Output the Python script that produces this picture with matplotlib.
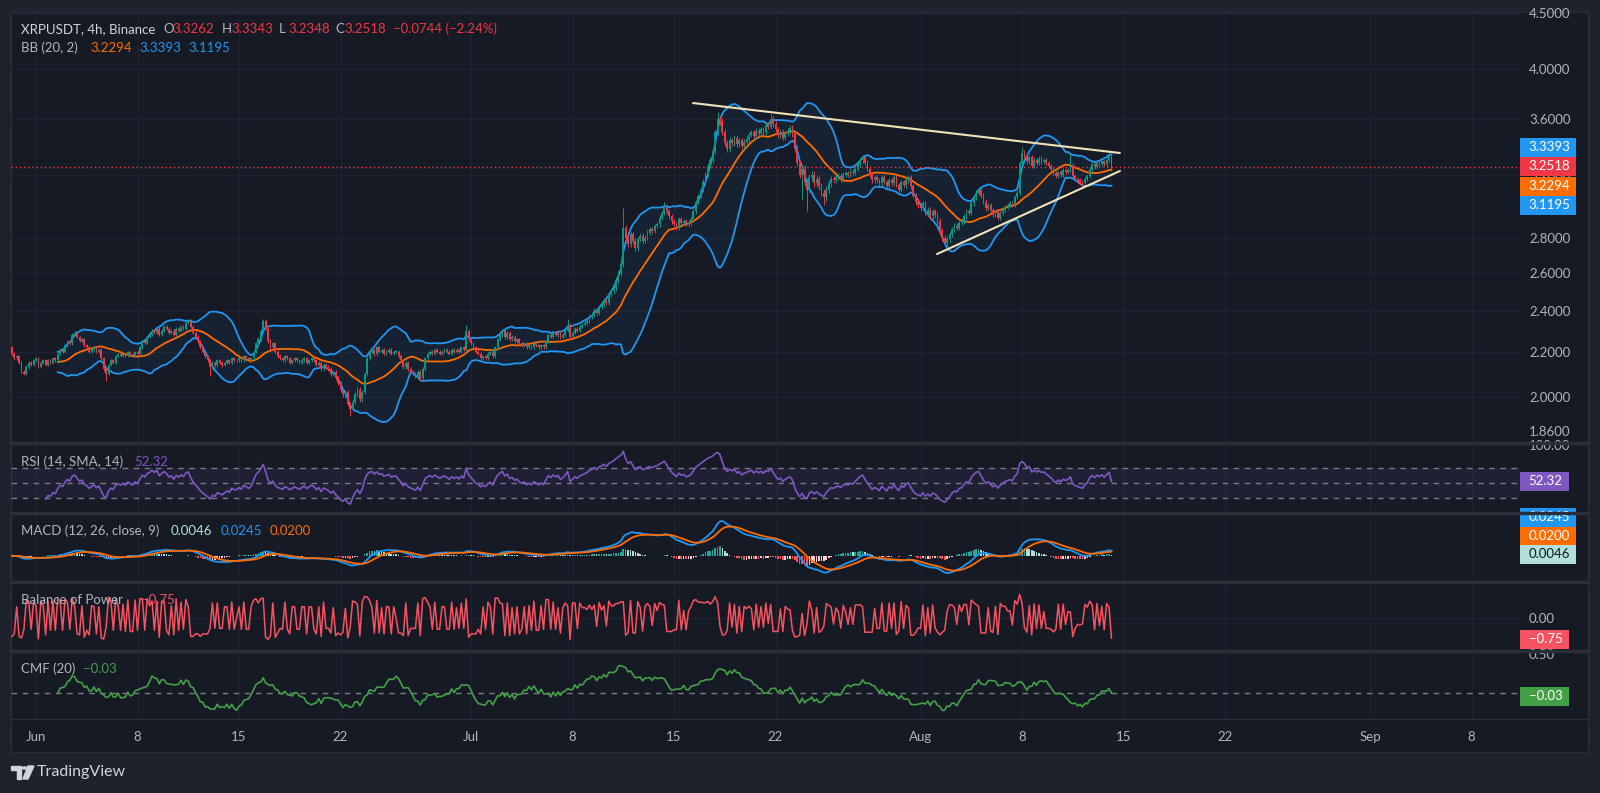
import numpy as np
import pandas as pd
import matplotlib
matplotlib.use("Agg")
import matplotlib.pyplot as plt
from matplotlib.patches import Rectangle, Polygon, Circle
from matplotlib.lines import Line2D

plt.rcParams["font.family"] = ["Lato", "DejaVu Sans"]

# ---- values: XRPUSDT 4h, Binance ----
# 4h closes, first candle 2025-05-30 08:00, last candle 2025-08-14 04:00
closes_may = [
    2.19, 2.17, 2.18, 2.15,               # 30 (from 08:00)
    2.11, 2.10, 2.13, 2.15, 2.14, 2.16,   # 31
]
closes_jun = [
    2.17, 2.13, 2.15, 2.16, 2.14, 2.16,   # 1
    2.15, 2.17, 2.16, 2.19, 2.21, 2.20,
    2.23, 2.25, 2.24, 2.28, 2.29, 2.27,
    2.25, 2.26, 2.23, 2.22, 2.20, 2.21,
    2.22, 2.20, 2.21, 2.17, 2.12, 2.10,   # 5
    2.14, 2.16, 2.15, 2.18, 2.19, 2.18,
    2.19, 2.18, 2.20, 2.19, 2.18, 2.20,
    2.19, 2.22, 2.25, 2.24, 2.27, 2.28,
    2.30, 2.29, 2.31, 2.28, 2.30, 2.32,
    2.31, 2.29, 2.30, 2.28, 2.31, 2.30,   # 10
    2.32, 2.31, 2.34, 2.35, 2.32, 2.29,
    2.27, 2.25, 2.22, 2.20, 2.18, 2.16,
    2.13, 2.15, 2.14, 2.16, 2.15, 2.14,
    2.15, 2.16, 2.15, 2.17, 2.16, 2.16,
    2.17, 2.16, 2.18, 2.17, 2.16, 2.17,   # 15
    2.20, 2.24, 2.26, 2.30, 2.35, 2.31,
    2.25, 2.22, 2.24, 2.20, 2.18, 2.17,
    2.16, 2.18, 2.17, 2.15, 2.16, 2.17,
    2.16, 2.15, 2.16, 2.17, 2.15, 2.16,
    2.17, 2.16, 2.14, 2.15, 2.12, 2.14,   # 20
    2.13, 2.12, 2.10, 2.11, 2.08, 2.06,
    2.03, 2.01, 2.02, 1.97, 1.95, 1.98,
    2.01, 2.03, 1.99, 2.02, 2.10, 2.17,
    2.20, 2.21, 2.19, 2.22, 2.20, 2.21,
    2.19, 2.20, 2.21, 2.19, 2.20, 2.20,   # 25
    2.18, 2.16, 2.13, 2.15, 2.12, 2.11,
    2.10, 2.09, 2.11, 2.08, 2.12, 2.17,
    2.19, 2.20, 2.19, 2.21, 2.20, 2.19,
    2.20, 2.21, 2.20, 2.19, 2.21, 2.20,
    2.21, 2.20, 2.22, 2.21, 2.30, 2.26,   # 30
]
closes_jul = [
    2.24, 2.22, 2.20, 2.19, 2.17, 2.18,   # 1
    2.17, 2.19, 2.20, 2.18, 2.22, 2.26,
    2.28, 2.30, 2.27, 2.29, 2.26, 2.27,
    2.25, 2.26, 2.24, 2.23, 2.24, 2.22,
    2.23, 2.22, 2.24, 2.23, 2.22, 2.23,   # 5
    2.22, 2.25, 2.28, 2.27, 2.29, 2.28,
    2.29, 2.27, 2.28, 2.30, 2.33, 2.27,
    2.29, 2.31, 2.30, 2.32, 2.33, 2.34,
    2.35, 2.37, 2.38, 2.40, 2.39, 2.42,
    2.43, 2.45, 2.44, 2.48, 2.50, 2.52,   # 10
    2.56, 2.60, 2.65, 2.86, 2.80, 2.76,
    2.82, 2.78, 2.74, 2.79, 2.81, 2.78,
    2.80, 2.83, 2.85, 2.84, 2.87, 2.88,
    2.92, 2.95, 2.99, 2.96, 2.93, 2.90,
    2.88, 2.86, 2.91, 2.89, 2.90, 2.88,   # 15
    2.89, 2.91, 2.96, 3.02, 3.06, 3.10,
    3.15, 3.20, 3.26, 3.30, 3.36, 3.50,
    3.60, 3.58, 3.50, 3.42, 3.38, 3.44,
    3.42, 3.46, 3.41, 3.44, 3.40, 3.43,
    3.45, 3.48, 3.50, 3.47, 3.51, 3.49,   # 20
    3.52, 3.50, 3.55, 3.54, 3.60, 3.56,
    3.52, 3.48, 3.50, 3.46, 3.49, 3.51,
    3.53, 3.49, 3.38, 3.28, 3.20, 3.24,
    3.15, 3.10, 3.18, 3.20, 3.14, 3.17,
    3.12, 3.08, 3.05, 3.10, 3.14, 3.17,   # 25
    3.16, 3.18, 3.19, 3.17, 3.20, 3.21,
    3.20, 3.22, 3.21, 3.24, 3.27, 3.30,
    3.32, 3.28, 3.24, 3.20, 3.16, 3.18,
    3.16, 3.14, 3.18, 3.15, 3.12, 3.16,
    3.14, 3.18, 3.13, 3.10, 3.15, 3.13,   # 30
    3.16, 3.18, 3.12, 3.06, 3.02, 3.00,
]
closes_aug = [
    2.98, 3.01, 2.95, 2.97, 2.93, 2.96,   # 1
    2.94, 2.90, 2.84, 2.80, 2.77, 2.79,
    2.82, 2.85, 2.87, 2.86, 2.89, 2.90,
    2.93, 2.96, 2.95, 3.01, 3.05, 3.08,
    3.10, 3.06, 3.02, 2.98, 3.00, 2.97,   # 5
    2.94, 2.96, 2.92, 2.95, 2.97, 2.99,
    3.00, 3.01, 3.00, 3.05, 3.08, 3.28,
    3.35, 3.33, 3.29, 3.32, 3.26, 3.30,
    3.28, 3.31, 3.29, 3.30, 3.28, 3.26,
    3.24, 3.21, 3.19, 3.22, 3.20, 3.23,   # 10
    3.22, 3.23, 3.26, 3.19, 3.17, 3.16,
    3.15, 3.14, 3.17, 3.19, 3.24, 3.27,
    3.25, 3.28, 3.27, 3.29, 3.27, 3.30,
    3.3262, 3.2518,                       # 14
]
first_open = 2.22

# typical wick length per day (price units)
wick_may = [0.007, 0.007]
wick_jun = [0.006, 0.006, 0.007, 0.006, 0.007, 0.006, 0.005, 0.006, 0.006, 0.006,
            0.007, 0.007, 0.008, 0.007, 0.007, 0.008, 0.008, 0.007, 0.007, 0.007,
            0.008, 0.009, 0.010, 0.008, 0.007, 0.008, 0.008, 0.007, 0.007, 0.008]
wick_jul = [0.007, 0.007, 0.008, 0.007, 0.006, 0.007, 0.008, 0.008,
            0.011, 0.012, 0.017, 0.016, 0.013, 0.015, 0.013, 0.014,
            0.019, 0.024, 0.020, 0.019, 0.020, 0.020, 0.023, 0.024, 0.022,
            0.017, 0.016, 0.018, 0.016, 0.016, 0.017]
wick_aug = [0.016, 0.018, 0.016, 0.015, 0.016, 0.013, 0.014,
            0.018, 0.016, 0.014, 0.016, 0.015, 0.013, 0.014]

# wicks that stick out on the chart
spike_high = {
    "2025-06-16 16:00": 2.36, "2025-06-30 16:00": 2.33, "2025-07-03 04:00": 2.31,
    "2025-07-07 16:00": 2.36, "2025-07-11 12:00": 2.98, "2025-07-14 08:00": 3.02,
    "2025-07-18 00:00": 3.65, "2025-07-21 16:00": 3.64, "2025-07-28 00:00": 3.33,
    "2025-08-05 00:00": 3.11, "2025-08-08 00:00": 3.39, "2025-08-11 08:00": 3.35,
    "2025-08-14 00:00": 3.35, "2025-08-14 04:00": 3.3343,
}
spike_low = {
    "2025-06-05 20:00": 2.07, "2025-06-13 00:00": 2.09, "2025-06-22 16:00": 1.92,
    "2025-07-23 20:00": 3.03, "2025-07-24 04:00": 2.96, "2025-07-25 08:00": 3.00,
    "2025-08-02 20:00": 2.73, "2025-08-12 04:00": 3.12, "2025-08-14 04:00": 3.2348,
}

# trendlines drawn on the chart: (time, price)
upper_trend = [("2025-07-16 07:30", 3.722), ("2025-08-14 18:00", 3.349)]
lower_trend = [("2025-08-02 03:20", 2.705), ("2025-08-14 18:00", 3.224)]

price_ticks = [1.86, 2.0, 2.2, 2.4, 2.6, 2.8, 3.2, 3.6, 4.0, 4.5]
date_ticks = ["2025-06-01", "2025-06-08", "2025-06-15", "2025-06-22", "2025-07-01",
              "2025-07-08", "2025-07-15", "2025-07-22", "2025-08-01", "2025-08-08",
              "2025-08-15", "2025-08-22", "2025-09-01", "2025-09-08"]
date_labels = ["Jun", "8", "15", "22", "Jul", "8", "15", "22", "Aug", "8", "15", "22", "Sep", "8"]

# ---- colours ----
BG = "#161a25"
OUTER = "#1e222d"
GRID = "#1f2330"
SEP = "#2a2e39"
TXT = "#b2b5be"
UP = "#089981"
DOWN = "#f23645"
BLUE = "#2196f3"
ORANGE = "#ff6d00"
PURPLE = "#7e57c2"
BOPRED = "#f7525f"
GREEN = "#43a047"

# ---- build candles + indicators ----
close = np.array(closes_may + closes_jun + closes_jul + closes_aug)
n = len(close)
times = pd.date_range("2025-05-30 08:00", periods=n, freq="4h")
t0 = pd.Timestamp("2025-06-01")
def to_days(ts):
    return (pd.to_datetime(ts) - t0) / pd.Timedelta(days=1)
x = np.asarray(to_days(times), dtype=float)

opn = np.r_[first_open, close[:-1]]
day_idx = np.asarray((times.normalize() - pd.Timestamp("2025-05-30")).days)
w = np.array(wick_may + wick_jun + wick_jul + wick_aug)[day_idx]
high = np.maximum(opn, close) + w
low = np.minimum(opn, close) - w
for k, v in spike_high.items():
    high[times.get_loc(pd.Timestamp(k))] = v
for k, v in spike_low.items():
    low[times.get_loc(pd.Timestamp(k))] = v

s = pd.Series(close)
basis = s.rolling(20).mean()
sd = s.rolling(20).std(ddof=0)
bb_up = basis + 2 * sd
bb_lo = basis - 2 * sd

delta = s.diff()
gain = delta.clip(lower=0).ewm(alpha=1 / 14, adjust=False, min_periods=14).mean()
loss = (-delta.clip(upper=0)).ewm(alpha=1 / 14, adjust=False, min_periods=14).mean()
rsi = 100 - 100 / (1 + gain / loss)

macd = s.ewm(span=12, adjust=False).mean() - s.ewm(span=26, adjust=False).mean()
signal = macd.ewm(span=9, adjust=False).mean()
hist = macd - signal

bop = (close - opn) / (high - low)
mfm = pd.Series(((close - low) - (high - close)) / (high - low))
cmf = mfm.rolling(20).mean()

# ---- figure ----
W, H = 1600, 793
fig = plt.figure(figsize=(W / 100, H / 100), dpi=100, facecolor=OUTER)

def box(x0, y0, x1, y1):
    return [x0 / W, 1 - y1 / H, (x1 - x0) / W, (y1 - y0) / H]

def fx(px):
    return px / W

def fy(py):
    return 1 - py / H

fig.add_artist(Rectangle((fx(11), fy(752)), fx(1588) - fx(11), fy(12) - fy(752),
                         transform=fig.transFigure, facecolor=BG, edgecolor=SEP,
                         lw=1, zorder=-10))

xlim = (-1.724, 102.34)
tick_days = [to_days(d) for d in date_ticks]

ax_p = fig.add_axes(box(11, 12, 1520, 443))
ax_r = fig.add_axes(box(11, 443, 1520, 513))
ax_m = fig.add_axes(box(11, 513, 1520, 582))
ax_b = fig.add_axes(box(11, 582, 1520, 651))
ax_c = fig.add_axes(box(11, 651, 1520, 719))
axes = [ax_p, ax_r, ax_m, ax_b, ax_c]

for ax in axes:
    ax.set_facecolor("none")
    ax.set_xlim(*xlim)
    for sp in ax.spines.values():
        sp.set_visible(False)
    for d in tick_days:
        ax.axvline(d, color=GRID, lw=1, zorder=0)
    ax.yaxis.tick_right()
    ax.tick_params(axis="y", length=0, pad=6.5, labelcolor=TXT, labelsize=9.5)
    ax.tick_params(axis="x", length=0, labelbottom=False)

# price panel
ax_p.set_yscale("log")
ax_p.set_ylim(1.814, 4.512)
ax_p.yaxis.set_minor_locator(matplotlib.ticker.NullLocator())
ax_p.set_yticks(price_ticks)
ax_p.set_yticklabels([f"{v:.4f}" for v in price_ticks])
for v in price_ticks[1:]:
    ax_p.axhline(v, color=GRID, lw=1, zorder=0)

ax_p.fill_between(x, bb_lo, bb_up, color=BLUE, alpha=0.06, lw=0, zorder=1)
ax_p.plot(x, bb_up, color=BLUE, lw=1.3, zorder=2)
ax_p.plot(x, bb_lo, color=BLUE, lw=1.3, zorder=2)
ax_p.plot(x, basis, color=ORANGE, lw=1.3, zorder=2)

up = close >= opn
cols = np.where(up, UP, DOWN)
ax_p.vlines(x, low, high, colors=cols, lw=0.7, zorder=3)
body_lo = np.minimum(opn, close)
body_h = np.maximum(np.abs(close - opn), 0.003)
ax_p.bar(x, body_h, bottom=body_lo, width=0.12, color=cols, lw=0, zorder=4)

for tl in (upper_trend, lower_trend):
    ax_p.plot([to_days(tl[0][0]), to_days(tl[1][0])], [tl[0][1], tl[1][1]],
              color="#efe3b5", lw=1.5, zorder=5, solid_capstyle="round")

ax_p.axhline(close[-1], color=DOWN, lw=1, ls=(0, (1, 2)), zorder=2)

# RSI
ax_r.set_ylim(10, 103.33)
ax_r.set_yticks([100])
ax_r.set_yticklabels(["100.00"])
ax_r.axhspan(30, 70, color=PURPLE, alpha=0.1, lw=0, zorder=0)
for v in (70, 50, 30):
    ax_r.axhline(v, color="#787b86", lw=1, ls=(0, (4, 4)), zorder=1)
ax_r.plot(x, rsi, color=PURPLE, lw=1.2, zorder=3)

# MACD
hist_prev = hist.shift(1)
hcols = np.where(hist >= 0, np.where(hist >= hist_prev, "#26a69a", "#b2dfdb"),
                 np.where(hist < hist_prev, "#ff5252", "#ffcdd2"))
ax_m.bar(x, hist, width=0.11, color=hcols, lw=0, zorder=2)
ax_m.plot(x, macd, color=BLUE, lw=1.3, zorder=3)
ax_m.plot(x, signal, color=ORANGE, lw=1.3, zorder=3)
lo_m = min(macd.min(), signal.min())
hi_m = max(macd.max(), signal.max())
span = (hi_m - lo_m) / 52.0
ax_m.set_ylim(lo_m - 9 * span, hi_m + 8 * span)
ax_m.set_yticks([])

# Balance of Power
ax_b.set_ylim(-1.222, 1.333)
ax_b.set_yticks([0])
ax_b.set_yticklabels(["0.00"])
ax_b.axhline(0, color=GRID, lw=1, zorder=0)
ax_b.plot(x, bop, color=BOPRED, lw=1.1, zorder=3)

# CMF
ax_c.set_ylim(-0.333, 0.538)
ax_c.set_yticks([0.5])
ax_c.set_yticklabels(["0.50"])
ax_c.axhline(0, color="#787b86", lw=1, ls=(0, (4, 4)), zorder=1)
ax_c.plot(x, cmf, color=GREEN, lw=1.2, zorder=3)
ax_c.set_xticks(tick_days)
ax_c.set_xticklabels(date_labels)
ax_c.tick_params(axis="x", length=0, pad=8.5, labelbottom=True, labelcolor=TXT,
                 labelsize=9.5)

# pane separators
for yy in (443, 513, 582, 651):
    fig.add_artist(Line2D([fx(11), fx(1588)], [fy(yy), fy(yy)], color=SEP, lw=2.5,
                          transform=fig.transFigure, zorder=20))
fig.add_artist(Line2D([fx(11), fx(1588)], [fy(719), fy(719)], color=SEP, lw=1,
                      transform=fig.transFigure, zorder=20))

# legends
def txt(px, py, s, color, size=9.5, **kw):
    fig.text(fx(px), fy(py), s, color=color, fontsize=size, va="center", ha="left",
             zorder=30, **kw)

txt(21, 29, "XRPUSDT, 4h, Binance", "#d1d4dc")
for px, lab, val in [(163, "O", "3.3262"), (222, "H", "3.3343"), (279, "L", "3.2348"),
                     (335, "C", "3.2518")]:
    txt(px, 29, lab, TXT)
    txt(px + 9, 29, val, DOWN)
txt(393, 29, "\u22120.0744 (\u22122.24%)", DOWN)
txt(21, 48, "BB (20, 2)", TXT)
txt(90, 48, "3.2294", ORANGE)
txt(139, 48, "3.3393", BLUE)
txt(188, 48, "3.1195", BLUE)

txt(21, 462, "RSI (14, SMA, 14)", TXT)
txt(134, 462, "52.32", PURPLE)
txt(21, 531, "MACD (12, 26, close, 9)", TXT)
txt(171, 531, "0.0046", "#b2dfdb")
txt(221, 531, "0.0245", BLUE)
txt(270, 531, "0.0200", ORANGE)
txt(21, 600, "Balance of Power", TXT)
txt(141, 600, "\u22120.75", BOPRED)
txt(21, 669, "CMF (20)", TXT)
txt(83, 669, "\u22120.03", GREEN)

# right-scale value tags
def tag(py, s, color, x1=1576, tcolor="white"):
    fig.add_artist(Rectangle((fx(1520), fy(py + 9.5)), fx(x1) - fx(1520), 19 / H,
                             transform=fig.transFigure, facecolor=color, lw=0, zorder=15))
    fig.text(fx((1520 + x1) / 2 + 1), fy(py), s, color=tcolor, fontsize=9.5,
             ha="center", va="center", zorder=16)

tag(147, "3.3393", BLUE)
tag(166, "3.2518", DOWN)
tag(186, "3.2294", ORANGE)
tag(205, "3.1195", BLUE)
tag(481, "52.32", PURPLE, x1=1569)
tag(517, "0.0245", BLUE)
tag(536, "0.0200", ORANGE)
tag(554, "0.0046", "#b2dfdb", tcolor="#131722")
tag(639, "\u22120.75", BOPRED, x1=1569)
tag(696, "\u22120.03", GREEN, x1=1569)

# footer logo
fig.add_artist(Polygon([(fx(11), fy(766)), (fx(21), fy(766)), (fx(21), fy(779)),
                        (fx(17), fy(779)), (fx(17), fy(770)), (fx(11), fy(770))],
                       closed=True, transform=fig.transFigure, color="#d1d4dc", zorder=30))
fig.add_artist(Circle((fx(24.5), fy(768)), 2.2 / W, transform=fig.transFigure,
                      color="#d1d4dc", zorder=30))
fig.add_artist(Polygon([(fx(28), fy(766)), (fx(34), fy(766)), (fx(28), fy(779)),
                        (fx(23), fy(779))],
                       closed=True, transform=fig.transFigure, color="#d1d4dc", zorder=30))
txt(37, 772, "TradingView", "#d1d4dc", size=11.5)

fig.savefig("out.png", dpi=100, facecolor=OUTER)
